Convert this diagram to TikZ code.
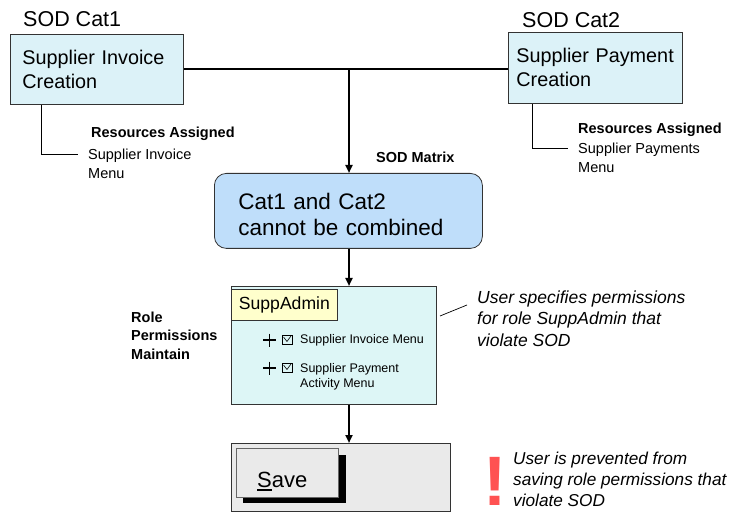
\documentclass[tikz,border=0pt]{standalone}
\usepackage{fontspec}
\setmainfont{Liberation Sans}
\usetikzlibrary{arrows.meta}
\definecolor{edge}{HTML}{333333}
\definecolor{catfill}{HTML}{DCF2F8}
\definecolor{matfill}{HTML}{BFDEFA}
\definecolor{rolefill}{HTML}{DDF6F6}
\definecolor{tabfill}{HTML}{FFFFCC}
\definecolor{savefill}{HTML}{EAEAEA}
\definecolor{warn}{HTML}{FF5252}
\begin{document}
\begin{tikzpicture}[x=1pt, y=-1pt,
  box/.style={draw=edge, line width=0.8pt, inner sep=0pt, anchor=north west, align=left},
  txt/.style={anchor=base west, inner sep=0pt, align=left},
  wire/.style={line width=2.4pt},
  arr/.style={line width=2.4pt, -{Triangle[length=8pt,width=7pt]}},
  lead/.style={line width=0.7pt}]
\useasboundingbox (0,0) rectangle (734,513);

\node[txt, font=\fontsize{21.5}{26}\selectfont] (cat1) at (23,27) {SOD Cat1};
\node[txt, font=\fontsize{21.5}{26}\selectfont] (cat2) at (522,28) {SOD Cat2};
\node[box, fill=catfill, minimum width=173pt, minimum height=70pt, text width=149pt, inner xsep=12pt,
  font=\fontsize{19.8}{24}\selectfont] (inv) at (10,34) {Supplier Invoice\\Creation};
\node[box, fill=catfill, minimum width=174pt, minimum height=71pt, text width=158pt, inner xsep=8pt,
  font=\fontsize{19.8}{24}\selectfont] (pay) at (508,32) {Supplier Payment\\Creation};

\coordinate (r1) at (78,154);
\coordinate (r2) at (568,148);
\draw[lead] ([xshift=31pt]inv.south west) |- (r1);
\draw[lead] ([xshift=24pt]pay.south west) |- (r2);
\node[txt, font=\bfseries\fontsize{14.5}{18}\selectfont] (res1) at (91,138) {Resources Assigned};
\node[txt, font=\fontsize{14.5}{18.5}\selectfont] (menu1) at (88,178.5) {Supplier Invoice\\Menu};
\node[txt, font=\bfseries\fontsize{14.5}{18}\selectfont] (res2) at (578,134) {Resources Assigned};
\node[txt, font=\fontsize{14.5}{19}\selectfont] (menu2) at (578,173) {Supplier Payments\\Menu};

\node[txt, font=\bfseries\fontsize{14.5}{18}\selectfont] (sodm) at (376,163) {SOD Matrix};
\node[box, fill=matfill, rounded corners=12pt, minimum width=268pt, minimum height=75pt, text width=220pt,
  inner xsep=24pt, font=\fontsize{22.5}{26}\selectfont] (mat) at (214,173)
  {\rule{0pt}{22.5pt}Cat1 and Cat2\\cannot be combined};

\node[txt, font=\bfseries\fontsize{14.5}{18}\selectfont] (rpm) at (131,359) {Role\\Permissions\\Maintain};
\node[box, fill=rolefill, minimum width=205pt, minimum height=118pt] (role) at (231,286) {};
\node[box, fill=tabfill, minimum width=106pt, minimum height=31pt, align=center,
  font=\fontsize{17.6}{20}\selectfont] (tab) at (231,289) {SuppAdmin};
\foreach \y in {340,368} {
  \draw[line width=1.8pt] (263,\y) -- (276,\y) (269.5,\y-6.5) -- (269.5,\y+6.5);
  \draw[line width=0.6pt] (282,\y-5) rectangle (292,\y+4);
  \draw[line width=0.6pt] (283.5,\y-3) -- (287,\y+1.5) -- (291,\y-4);
}
\node[txt, font=\fontsize{12.5}{15}\selectfont] (item1) at (300,343) {Supplier Invoice Menu};
\node[txt, font=\fontsize{12.5}{15}\selectfont] (item2) at (300,387) {Supplier Payment\\Activity Menu};

\coordinate (n0) at (440,316);
\coordinate (n1) at (467,305);
\draw[lead] (n0) -- (n1);
\node[txt, font=\itshape\fontsize{17.5}{21.5}\selectfont] (note1) at (477,346)
  {User specifies permissions\\for role SuppAdmin that\\violate SOD};

\node[box, fill=savefill, minimum width=219pt, minimum height=68pt] (bar) at (231,443) {};
\fill (243,455) rectangle (346,503);
\node[box, fill=savefill, draw=gray!80!black, minimum width=102pt, minimum height=49pt] (save) at (236,448) {};
\node[txt, font=\fontsize{22}{26}\selectfont] (savetxt) at (257,487)
  {\setbox0\hbox{S}\rlap{\rule[-3.5pt]{\wd0}{1.8pt}}Save};

\node[txt, text=warn, text depth=0pt, font=\bfseries\fontsize{70}{70}\selectfont] (bang) at (483,505) {!};
\node[txt, font=\itshape\fontsize{17.2}{21}\selectfont] (note2) at (513,506)
  {User is prevented from\\saving role permissions that\\violate SOD};

\coordinate (j) at (349,69);
\draw[wire] (inv.east |- j) -- (pay.west |- j);
\draw[arr] (j) -- (j |- mat.north);
\draw[arr] (j |- mat.south) -- (j |- role.north);
\draw[arr] (j |- role.south) -- (j |- bar.north);

\end{tikzpicture}
\end{document}
